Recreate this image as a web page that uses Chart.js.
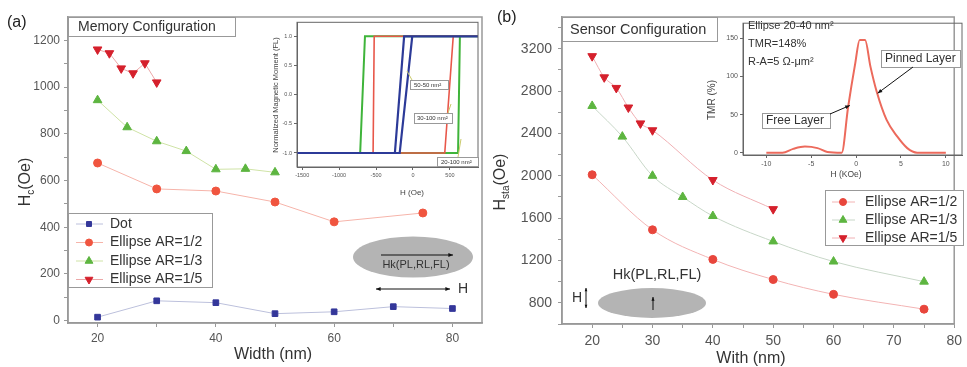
<!DOCTYPE html>
<html>
<head>
<meta charset="utf-8">
<script src="https://cdn.jsdelivr.net/npm/chart.js@4.4.0/dist/chart.umd.min.js"></script>
<style>
  html, body { margin: 0; padding: 0; background: #fff; }
  #wrap { position: relative; width: 967px; height: 367px; overflow: hidden; background: #fff; }
  canvas { position: absolute; }
</style>
</head>
<body>
<div id="wrap">
  <canvas id="mainA" width="490" height="367" style="left:0px;top:0px"></canvas>
  <canvas id="mainB" width="477" height="367" style="left:490px;top:0px"></canvas>
  <canvas id="insetA" width="214" height="185" style="left:268px;top:17px"></canvas>
  <canvas id="insetB" width="259" height="172" style="left:705px;top:17px"></canvas>
</div>
<script>
const FONT = 'Arial, "Liberation Sans", sans-serif';
Chart.defaults.font.family = FONT;

// ---- panel (a): memory configuration
const widthTicksA = [20, 30, 40, 50, 60, 70, 80];
const hcTicksA = [0, 100, 200, 300, 400, 500, 600, 700, 800, 900, 1000, 1100, 1200];
const dotWidth = [20, 30, 40, 50, 60, 70, 80];
const dotHc = [15, 85, 77, 30, 38, 60, 52];
const ar2WidthA = [20, 30, 40, 50, 60, 75];
const ar2Hc = [675, 564, 555, 508, 423, 461];
const ar3WidthA = [20, 25, 30, 35, 40, 45, 50];
const ar3Hc = [944, 828, 768, 726, 648, 650, 635];
const ar5WidthA = [20, 22, 24, 26, 28, 30];
const ar5Hc = [1161, 1145, 1080, 1059, 1102, 1020];

// inset (a): hysteresis loops
const loopTicksH = [-1500, -1000, -500, 0, 500];
const loopTicksM = [-1, -0.5, 0, 0.5, 1];
const loopGreenH = [-1570, 610, 635, 880, -650, -715, -1570];
const loopGreenM = [-1, -1, 1, 1, 1, -1, -1];
const loopRedH = [-1570, 430, 545, 880, -525, -540, -1570];
const loopRedM = [-1, -1, 1, 1, 1, -1, -1];
const loopBlueH = [-1570, -180, -10, 880, -120, -245, -1570];
const loopBlueM = [-1, -1, 1, 1, 1, -1, -1];

// ---- panel (b): sensor configuration
const widthTicksB = [20, 25, 30, 35, 40, 45, 50, 55, 60, 65, 70, 75, 80];
const hsTicksB = [600, 800, 1000, 1200, 1400, 1600, 1800, 2000, 2200, 2400, 2600, 2800, 3000, 3200, 3400];
const ar2WidthB = [20, 30, 40, 50, 60, 75];
const ar2Hs = [2010, 1490, 1210, 1020, 880, 740];
const ar3WidthB = [20, 25, 30, 35, 40, 50, 60, 75];
const ar3Hs = [2660, 2370, 2000, 1800, 1620, 1380, 1190, 1000];
const ar5WidthB = [20, 22, 24, 26, 28, 30, 40, 50];
const ar5Hs = [3130, 2930, 2830, 2645, 2495, 2430, 1960, 1685];

// inset (b): TMR curve
const tmrTicksH = [-10, -5, 0, 5, 10];
const tmrTicksV = [0, 50, 100, 150];
const tmrH = [-10, -8.2, -7, -5.7, -4.3, -3.2, -1.6, -0.9, -0.1, 0.4, 1.0, 1.6, 2.3, 3.4, 4.6, 5.7, 6.8, 10];
const tmrV = [0, 0, 5, 8, 6, 1, 0, 59, 117, 148, 148, 113, 80, 43, 21, 6, 0, 0];

const pts = (xs, ys) => xs.map((x, i) => ({ x, y: ys[i] }));

// ---- drawing helpers
function text(ctx, str, x, y, size, color, align) {
  ctx.font = size + 'px ' + FONT;
  ctx.fillStyle = color;
  ctx.textAlign = align || 'left';
  ctx.textBaseline = 'middle';
  ctx.fillText(str, x, y);
}

function labelBox(ctx, str, x, y, w, h, size, pad) {
  ctx.fillStyle = '#fff';
  ctx.fillRect(x, y, w, h);
  ctx.strokeStyle = '#999';
  ctx.lineWidth = 1;
  ctx.strokeRect(x + 0.5, y + 0.5, w, h);
  text(ctx, str, x + pad, y + h / 2 + 0.5, size, '#333', 'left');
}

function arrow(ctx, x1, y1, x2, y2, head, both, color) {
  ctx.strokeStyle = color || '#111';
  ctx.fillStyle = color || '#111';
  ctx.lineWidth = 1;
  ctx.beginPath(); ctx.moveTo(x1, y1); ctx.lineTo(x2, y2); ctx.stroke();
  const tip = (xa, ya, xb, yb) => {
    const a = Math.atan2(yb - ya, xb - xa);
    ctx.beginPath();
    ctx.moveTo(xb, yb);
    ctx.lineTo(xb - head * Math.cos(a - 0.4), yb - head * Math.sin(a - 0.4));
    ctx.lineTo(xb - head * Math.cos(a + 0.4), yb - head * Math.sin(a + 0.4));
    ctx.closePath(); ctx.fill();
  };
  tip(x1, y1, x2, y2);
  if (both) tip(x2, y2, x1, y1);
}

function yTitle(ctx, cx, cy, main, sub, rest, size) {
  ctx.save();
  ctx.translate(cx, cy);
  ctx.rotate(-Math.PI / 2);
  const big = size + 'px ' + FONT, small = Math.round(size * 0.62) + 'px ' + FONT;
  ctx.font = big; const w1 = ctx.measureText(main).width; const w3 = ctx.measureText(rest).width;
  ctx.font = small; const w2 = ctx.measureText(sub).width;
  let x = -(w1 + w2 + w3) / 2;
  ctx.fillStyle = '#333'; ctx.textBaseline = 'middle'; ctx.textAlign = 'left';
  ctx.font = big; ctx.fillText(main, x, 0); x += w1;
  ctx.font = small; ctx.fillText(sub, x, size * 0.35); x += w2;
  ctx.font = big; ctx.fillText(rest, x, 0);
  ctx.restore();
}

function drawLegend(chart, ctx, box, rows, lineL, lineR, markX, textX, size) {
  ctx.fillStyle = '#fff';
  ctx.fillRect(box.x, box.y, box.w, box.h);
  ctx.strokeStyle = '#999';
  ctx.lineWidth = 1;
  ctx.strokeRect(box.x + 0.5, box.y + 0.5, box.w, box.h);
  chart.data.datasets.forEach((ds, i) => {
    const y = rows[i];
    ctx.strokeStyle = ds.borderColor; ctx.lineWidth = 1;
    ctx.beginPath(); ctx.moveTo(lineL, y); ctx.lineTo(lineR, y); ctx.stroke();
    ctx.fillStyle = ds.pointBackgroundColor;
    ctx.strokeStyle = ds.pointBorderColor;
    Chart.helpers.drawPoint(ctx, { pointStyle: ds.pointStyle, radius: ds.pointRadius - 0.5, rotation: ds.pointRotation || 0, borderWidth: 1 }, markX, y);
    text(ctx, ds.label, textX, y, size, '#333', 'left');
  });
}

const framePlugin = {
  id: 'frame',
  afterDatasetsDraw(chart, args, opts) {
    const { ctx, chartArea: a } = chart;
    ctx.save();
    ctx.strokeStyle = opts.color;
    ctx.lineWidth = opts.width;
    ctx.strokeRect(a.left, a.top, a.right - a.left, a.bottom - a.top);
    ctx.restore();
  }
};

function axis(min, max, ticks, major, fit, fontSize, pad, color, fmt) {
  return {
    type: 'linear', min, max,
    afterBuildTicks: s => { s.ticks = ticks.map(v => ({ value: v })); },
    afterFit: s => { if (s.isHorizontal()) s.height = fit; else s.width = fit; },
    border: { color: color, width: fontSize > 9 ? 1.5 : 1 },
    grid: { drawOnChartArea: false, color: color, tickLength: fontSize > 9 ? 4 : 3 },
    ticks: {
      autoSkip: false, maxRotation: 0, padding: pad, color: '#555',
      font: { size: fontSize },
      callback: v => (major === 0 || v % major === 0) ? (fmt ? fmt(v) : v) : ''
    }
  };
}

const series = (label, xs, ys, point, line, style, radius, rot, smooth) => ({
  label, data: pts(xs, ys),
  borderColor: line, borderWidth: 1,
  pointBackgroundColor: point, pointBorderColor: point,
  pointStyle: style, pointRadius: radius, pointRotation: rot || 0,
  pointBorderWidth: 1, tension: 0,
  cubicInterpolationMode: smooth ? 'monotone' : 'default'
});

const baseOpts = (padding, scales, frame) => ({
  responsive: false, animation: false, devicePixelRatio: 1,
  layout: { padding },
  plugins: { legend: { display: false }, tooltip: { enabled: false }, frame },
  scales
});

// ---- panel (a)
const annotA = {
  id: 'annotA',
  afterDraw(chart) {
    const ctx = chart.ctx;
    ctx.save();
    text(ctx, '(a)', 7, 23, 16, '#222', 'left');
    labelBox(ctx, 'Memory Configuration', 68, 17, 167, 19, 14, 10);
    drawLegend(chart, ctx, { x: 68, y: 213, w: 144, h: 74 }, [224, 242.5, 261, 279.5], 76, 103, 89, 110, 14);
    text(ctx, 'Width (nm)', 273, 355, 16, '#333', 'center');
    yTitle(ctx, 26, 182, 'H', 'c', '(Oe)', 16);
    // element sketch
    ctx.fillStyle = '#b4b4b4';
    ctx.beginPath(); ctx.ellipse(413, 257, 60, 20.5, 0, 0, Math.PI * 2); ctx.fill();
    arrow(ctx, 381, 255, 453, 255, 5, false);
    text(ctx, 'Hk(PL,RL,FL)', 416, 265, 11, '#333', 'center');
    arrow(ctx, 376, 289, 450, 289, 5, true);
    text(ctx, 'H', 458, 289, 14, '#333', 'left');
    ctx.restore();
  }
};

new Chart(document.getElementById('mainA'), {
  type: 'line',
  data: {
    datasets: [
      series('Dot', dotWidth, dotHc, '#34379a', '#bcc0dc', 'rect', 4),
      series('Ellipse AR=1/2', ar2WidthA, ar2Hc, '#f0553f', '#f6b4aa', 'circle', 4),
      series('Ellipse AR=1/3', ar3WidthA, ar3Hc, '#5db540', '#cfe3a6', 'triangle', 5),
      series('Ellipse AR=1/5', ar5WidthA, ar5Hc, '#d5202c', '#eca8a8', 'triangle', 5, 180)
    ]
  },
  options: baseOpts({ left: 0, top: 17, right: 8, bottom: 0 }, {
    x: axis(15, 85, widthTicksA, 20, 44, 12, 4, '#999'),
    y: axis(-10, 1300, hcTicksA, 200, 68, 12, 4, '#999')
  }, { color: '#999', width: 1.5 }),
  plugins: [framePlugin, annotA]
});

// ---- inset (a)
const annotInsetA = {
  id: 'annotInsetA',
  afterDraw(chart) {
    const ctx = chart.ctx;
    ctx.save();
    ctx.translate(-268, -17);
    ctx.strokeStyle = '#c9c96a'; ctx.lineWidth = 1;
    ctx.beginPath(); ctx.moveTo(412, 80); ctx.lineTo(407, 71); ctx.stroke();
    ctx.beginPath(); ctx.moveTo(448, 113); ctx.lineTo(451, 104); ctx.stroke();
    ctx.beginPath(); ctx.moveTo(458, 157); ctx.lineTo(461, 139); ctx.stroke();
    labelBox(ctx, '50-50 nm²', 410, 80, 38, 9, 6, 4);
    labelBox(ctx, '30-100 nm²', 414, 113, 38, 10, 6, 3);
    labelBox(ctx, '20-100 nm²', 437, 157, 41, 9, 6, 4);
    text(ctx, 'H (Oe)', 412, 193, 8, '#444', 'center');
    ctx.translate(276, 95); ctx.rotate(-Math.PI / 2);
    text(ctx, 'Normalized Magnetic Moment (FL)', 0, 0, 7.5, '#444', 'center');
    ctx.restore();
  }
};

new Chart(document.getElementById('insetA'), {
  type: 'line',
  data: {
    datasets: [
      { label: 'blue', data: pts(loopBlueH, loopBlueM), borderColor: '#2c3a98', borderWidth: 2.2, pointRadius: 0, tension: 0 },
      { label: 'red', data: pts(loopRedH, loopRedM), borderColor: '#e8574a', borderWidth: 1.6, pointRadius: 0, tension: 0 },
      { label: 'green', data: pts(loopGreenH, loopGreenM), borderColor: '#3fb43a', borderWidth: 2, pointRadius: 0, tension: 0 }
    ]
  },
  options: baseOpts({ left: 0, top: 3, right: 4, bottom: 0 }, {
    x: axis(-1570, 880, loopTicksH, 0, 35, 5.5, 2, '#666'),
    y: axis(-1.24, 1.24, loopTicksM, 0, 29, 5.5, 2, '#666', v => v.toFixed(1))
  }, { color: '#666', width: 1 }),
  plugins: [framePlugin, annotInsetA]
});

// ---- panel (b)
const annotB = {
  id: 'annotB',
  afterDraw(chart) {
    const ctx = chart.ctx;
    ctx.save();
    ctx.translate(-490, 0);
    text(ctx, '(b)', 497, 18, 16, '#222', 'left');
    labelBox(ctx, 'Sensor Configuration', 562, 17, 155, 24, 14.5, 8);
    drawLegend(chart, ctx, { x: 825, y: 190, w: 138, h: 55 }, [202, 220, 238], 832, 855, 843, 865, 14);
    text(ctx, 'With (nm)', 751, 359, 16, '#333', 'center');
    yTitle(ctx, 501, 182, 'H', 'sta', '(Oe)', 16);
    // element sketch
    ctx.fillStyle = '#b4b4b4';
    ctx.beginPath(); ctx.ellipse(652, 303, 54, 15, 0, 0, Math.PI * 2); ctx.fill();
    arrow(ctx, 653, 310, 653, 297, 4, false);
    text(ctx, 'Hk(PL,RL,FL)', 657, 275, 14.5, '#333', 'center');
    text(ctx, 'H', 572, 298, 14, '#333', 'left');
    arrow(ctx, 586, 288, 586, 308, 3.5, true);
    ctx.restore();
  }
};

new Chart(document.getElementById('mainB'), {
  type: 'line',
  data: {
    datasets: [
      series('Ellipse AR=1/2', ar2WidthB, ar2Hs, '#e8463c', '#f3b4b4', 'circle', 4, 0, true),
      series('Ellipse AR=1/3', ar3WidthB, ar3Hs, '#5db540', '#c8d7c8', 'triangle', 5, 0, true),
      series('Ellipse AR=1/5', ar5WidthB, ar5Hs, '#d5202c', '#f0b0b4', 'triangle', 5, 180, true)
    ]
  },
  options: baseOpts({ left: 0, top: 17, right: 3, bottom: 0 }, {
    x: axis(15, 80, widthTicksB, 10, 43, 14, 5, '#999'),
    y: axis(600, 3500, hsTicksB, 400, 72, 14, 6, '#999')
  }, { color: '#999', width: 1.5 }),
  plugins: [framePlugin, annotB]
});

// ---- inset (b)
const annotInsetB = {
  id: 'annotInsetB',
  afterDraw(chart) {
    const ctx = chart.ctx;
    const sx = chart.scales.x, sy = chart.scales.y;
    ctx.save();
    ctx.translate(-705, -17);
    text(ctx, 'Ellipse 20-40 nm²', 748, 26, 11, '#333', 'left');
    text(ctx, 'TMR=148%', 748, 44, 11, '#333', 'left');
    text(ctx, 'R-A=5 Ω-μm²', 748, 62, 11, '#333', 'left');
    labelBox(ctx, 'Pinned Layer', 881, 50, 79, 17, 12, 4);
    labelBox(ctx, 'Free Layer', 762, 113, 68, 15, 12, 4);
    // arrows pointing onto the curve
    arrow(ctx, 913, 67, sx.getPixelForValue(2.4) + 705, sy.getPixelForValue(78) + 17, 5, false);
    arrow(ctx, 830, 114, sx.getPixelForValue(-0.7) + 705, sy.getPixelForValue(62) + 17, 5, false);
    text(ctx, 'H (KOe)', 846, 175, 8.5, '#444', 'center');
    ctx.translate(712, 100); ctx.rotate(-Math.PI / 2);
    text(ctx, 'TMR (%)', 0, 0, 10, '#444', 'center');
    ctx.restore();
  }
};

new Chart(document.getElementById('insetB'), {
  type: 'line',
  data: {
    datasets: [
      { label: 'TMR', data: pts(tmrH, tmrV), borderColor: '#ec6a5c', borderWidth: 2, pointRadius: 0, cubicInterpolationMode: 'monotone' }
    ]
  },
  options: baseOpts({ left: 0, top: 0, right: 2, bottom: 0 }, {
    x: axis(-12.6, 11.8, tmrTicksH, 0, 34, 7, 2, '#666'),
    y: axis(-3, 170, tmrTicksV, 0, 38, 7, 2, '#666')
  }, { color: '#666', width: 1 }),
  plugins: [framePlugin, annotInsetB]
});
</script>
</body>
</html>
